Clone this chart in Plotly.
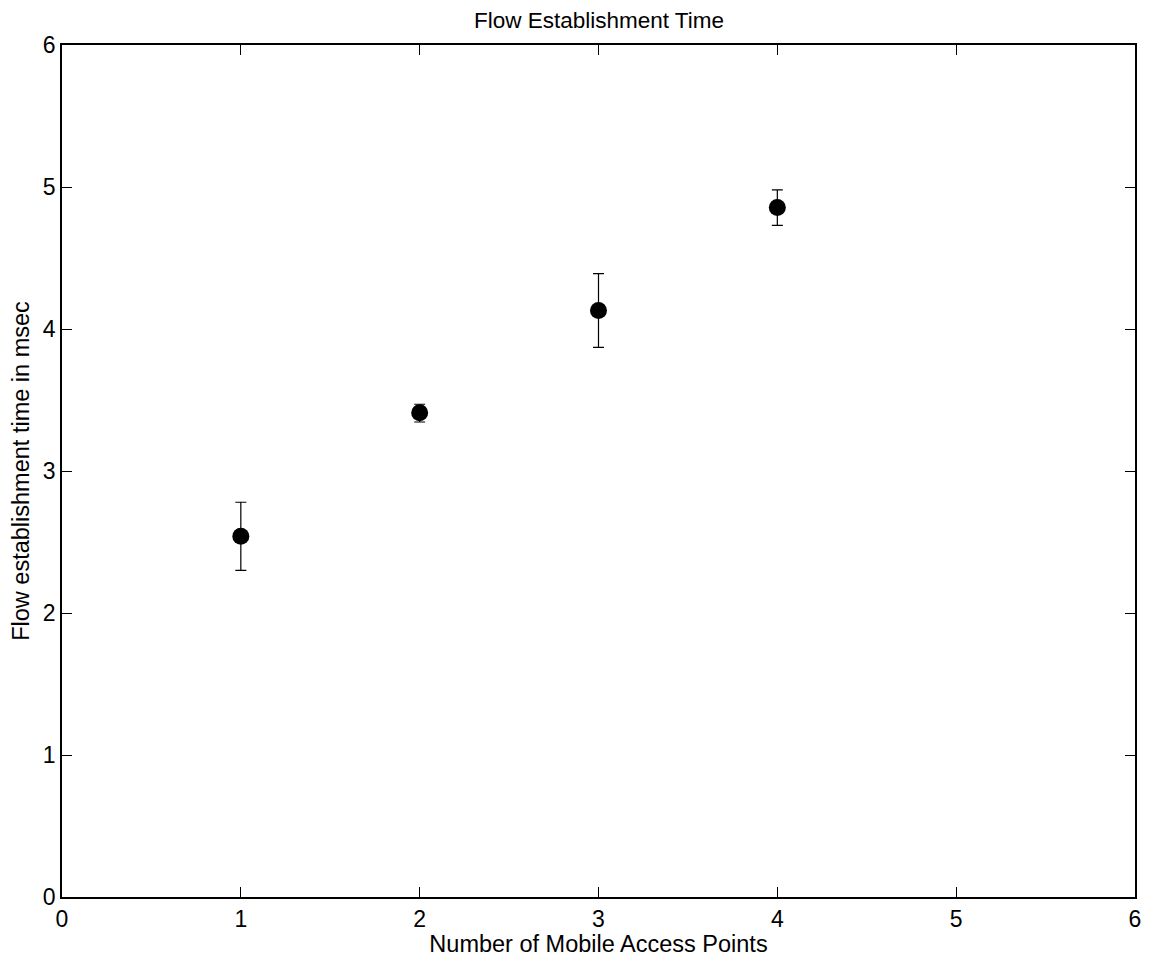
import plotly.graph_objects as go

x_vals = [1, 2, 3, 4]
means = [2.54, 3.41, 4.13, 4.855]
err_plus = [0.24, 0.06, 0.26, 0.125]
err_minus = [0.24, 0.065, 0.26, 0.125]
ticks = [0, 1, 2, 3, 4, 5, 6]

FONT = "Liberation Sans, Arial, sans-serif"
W, H = 1145, 959

fig = go.Figure()
fig.add_trace(go.Scatter(
    x=x_vals, y=means, mode="markers",
    marker=dict(color="black", size=17),
    error_y=dict(type="data", symmetric=False, array=err_plus, arrayminus=err_minus,
                 color="black", thickness=1.2, width=5.5),
    showlegend=False,
))
axis_common = dict(
    showgrid=False, zeroline=False, showline=True, linecolor="black", linewidth=1.8,
    mirror="ticks", ticks="inside", ticklen=10, tickcolor="black", tickwidth=1,
    tickfont=dict(family=FONT, size=23, color="black"),
)
fig.update_layout(
    width=W, height=H,
    margin=dict(l=52, r=15, t=37, b=70),
    paper_bgcolor="white", plot_bgcolor="white",
    title=dict(text="Flow Establishment Time", x=(52 + (W - 15)) / 2 / W, xanchor="center",
               yref="container", y=1 - 4 / H, yanchor="top",
               font=dict(family=FONT, size=22.5, color="black")),
    xaxis=dict(range=[0, 6], tickvals=ticks, title=dict(text="Number of Mobile Access Points", standoff=2,
               font=dict(family=FONT, size=23.5, color="black")), **axis_common),
    yaxis=dict(range=[0, 6], tickvals=ticks, title=dict(text="Flow establishment time in msec", standoff=6,
               font=dict(family=FONT, size=23.5, color="black")), **axis_common),
)
fig.write_html("out.html")
